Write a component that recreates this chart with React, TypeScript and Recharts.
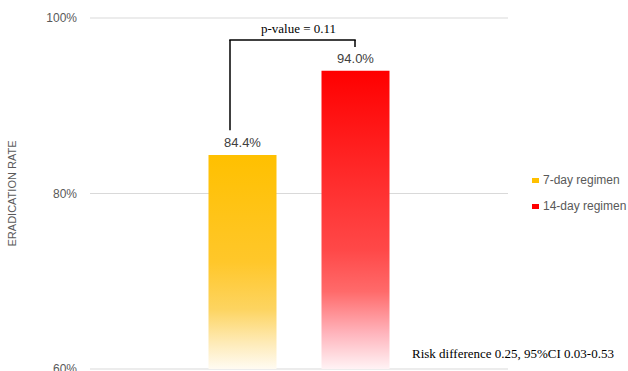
import React from 'react';
import { BarChart, Bar, Cell, XAxis, YAxis, CartesianGrid, LabelList, ReferenceLine } from 'recharts';

const CATEGORIES = ['7-day regimen', '14-day regimen'];
const RATES = [0.844, 0.94];
const Y_TICKS = [0.6, 0.8, 1.0];
const BAR_COLORS = ['#FFC000', '#FF0000'];
// bracket levels (in rate units): top bar, left foot, right foot
const BRACKET_TOP = 0.975;
const BRACKET_FEET = [0.872, 0.967];
const P_VALUE_TEXT = 'p-value = 0.11';
const RISK_TEXT = 'Risk difference 0.25, 95%CI 0.03-0.53';

const data = CATEGORIES.map((name, i) => ({ name, value: RATES[i] }));

const pct = (v: number) => `${Math.round(v * 100)}%`;

const LegendBox = () => (
    <div
        style={{
            position: 'absolute',
            left: 532,
            top: 167,
            fontFamily: 'Liberation Sans, Arial, sans-serif',
            fontSize: 12,
            color: '#595959',
        }}
    >
        {CATEGORIES.map((c, i) => (
            <div key={c} style={{ display: 'flex', alignItems: 'center', height: 26, whiteSpace: 'nowrap' }}>
                <span style={{ display: 'inline-block', width: 7, height: 5, background: BAR_COLORS[i], marginRight: 4 }} />
                {c}
            </div>
        ))}
    </div>
);

// left foot of the bracket sits a bit left of the bar centre
const LeftFoot = (props: any) => (
    <line x1={props.x1 - 12} y1={props.y1} x2={props.x2 - 12} y2={props.y2} stroke="#000" strokeWidth={1.5} />
);
const TopBar = (props: any) => (
    <line x1={props.x1 - 12.75} y1={props.y1} x2={props.x2 + 0.75} y2={props.y2} stroke="#000" strokeWidth={1.5} />
);

export default function App() {
    return (
        <div style={{ position: 'absolute', left: 0, top: 0, width: 628, height: 371, overflow: 'hidden', background: '#fff' }}>
            <BarChart width={628} height={385} data={data} margin={{ top: 18, right: 120, left: 0, bottom: 16 }}>
                <defs>
                    <linearGradient id="gradYellow" x1="0" y1="0" x2="0" y2="1">
                        <stop offset="0" stopColor="#FFC000" />
                        <stop offset="0.5" stopColor="#FFC72A" />
                        <stop offset="0.72" stopColor="#FDD460" />
                        <stop offset="0.88" stopColor="#FEEBB8" />
                        <stop offset="1" stopColor="#FFFBF2" />
                    </linearGradient>
                    <linearGradient id="gradRed" x1="0" y1="0" x2="0" y2="1">
                        <stop offset="0" stopColor="#FF0000" />
                        <stop offset="0.6" stopColor="#FF4848" />
                        <stop offset="0.74" stopColor="#FF6A6A" />
                        <stop offset="0.88" stopColor="#FFB4BC" />
                        <stop offset="1" stopColor="#FFF3F5" />
                    </linearGradient>
                </defs>
                <CartesianGrid vertical={false} stroke="#D9D9D9" />
                <XAxis dataKey="name" type="category" hide padding={{ left: 95.5, right: 96.5 }} />
                <YAxis
                    domain={[0.6, 1]}
                    ticks={Y_TICKS}
                    tickFormatter={pct}
                    width={90}
                    axisLine={false}
                    tickLine={false}
                    tickMargin={7}
                    tick={{ fill: '#595959', fontSize: 12, fontFamily: 'Liberation Sans, Arial, sans-serif' }}
                    label={{
                        value: 'ERADICATION RATE',
                        angle: -90,
                        position: 'insideLeft',
                        offset: 12,
                        style: { fill: '#595959', fontSize: 11, fontFamily: 'Liberation Sans, Arial, sans-serif', textAnchor: 'middle' },
                    }}
                />
                <Bar dataKey="value" barSize={68} isAnimationActive={false}>
                    {data.map((d, i) => (
                        <Cell key={d.name} fill={i === 0 ? 'url(#gradYellow)' : 'url(#gradRed)'} />
                    ))}
                    <LabelList
                        dataKey="value"
                        position="top"
                        offset={8}
                        formatter={(v: number) => `${(v * 100).toFixed(1)}%`}
                        style={{ fill: '#404040', fontSize: 13, fontFamily: 'Liberation Sans, Arial, sans-serif' }}
                    />
                </Bar>
                <ReferenceLine
                    segment={[{ x: CATEGORIES[0], y: BRACKET_FEET[0] }, { x: CATEGORIES[0], y: BRACKET_TOP }]}
                    shape={LeftFoot}
                />
                <ReferenceLine
                    segment={[{ x: CATEGORIES[0], y: BRACKET_TOP }, { x: CATEGORIES[1], y: BRACKET_TOP }]}
                    shape={TopBar}
                    label={{
                        value: P_VALUE_TEXT,
                        position: 'top',
                        offset: 7,
                        style: { fill: '#000', fontSize: 13, fontFamily: 'Liberation Serif, Times New Roman, serif' },
                    }}
                />
                <ReferenceLine
                    segment={[{ x: CATEGORIES[1], y: BRACKET_TOP }, { x: CATEGORIES[1], y: BRACKET_FEET[1] }]}
                    stroke="#000"
                    strokeWidth={1.5}
                />
            </BarChart>
            <LegendBox />
            <div
                style={{
                    position: 'absolute',
                    left: 412,
                    top: 346,
                    fontFamily: 'Liberation Serif, Times New Roman, serif',
                    fontSize: 13,
                    color: '#000',
                    whiteSpace: 'nowrap',
                }}
            >
                {RISK_TEXT}
            </div>
        </div>
    );
}
